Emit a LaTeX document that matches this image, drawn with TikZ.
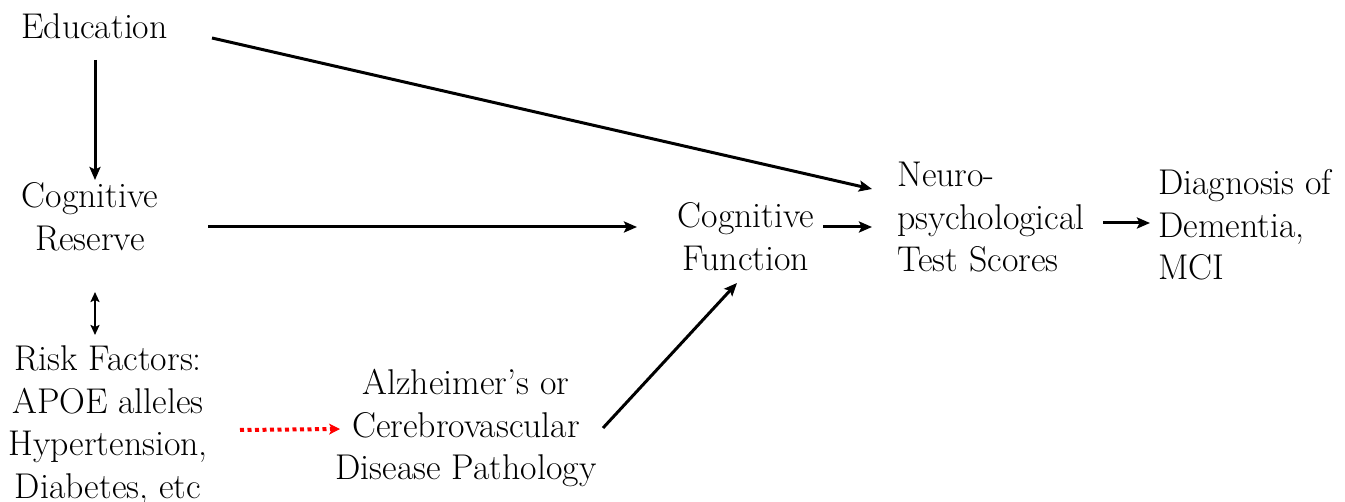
\documentclass[tikz,border=0pt]{standalone}
\usepackage{fontspec}
\usetikzlibrary{arrows.meta,calc}
\newcommand{\mlc}[1]{\begin{tabular}[t]{@{}c@{}}#1\end{tabular}}
\newcommand{\mll}[1]{\begin{tabular}[t]{@{}l@{}}#1\end{tabular}}
\begin{document}
\begin{tikzpicture}[x=1pt,y=-1pt,
  lbl/.style={inner sep=0pt,font=\rmfamily\fontsize{35.8}{42.5}\selectfont},
  arr/.style={line width=3pt,-{Stealth[length=13pt,width=11pt,inset=2.5pt]}},
  dbl/.style={line width=2.5pt,{Stealth[length=10pt,width=9pt,inset=2pt]}-{Stealth[length=10pt,width=9pt,inset=2pt]}},
  redarr/.style={red,line width=4pt,dash pattern=on 4pt off 3.5pt,-{Stealth[length=11pt,width=11pt,inset=3pt,line width=1pt]}}]
\useasboundingbox (0,0) rectangle (1345,502);
\node[lbl,anchor=base] (edu) at (94.5,39) {\mlc{Education}};
\node[lbl,anchor=base] (cr) at (90,208) {\mlc{Cognitive\\Reserve}};
\node[lbl,anchor=base] (risk) at (108,371) {\mlc{Risk Factors:\\APOE alleles\\Hypertension,\\Diabetes, etc}};
\node[lbl,anchor=base] (alz) at (466,395) {\mlc{Alzheimer’s or\\Cerebrovascular\\Disease Pathology}};
\node[lbl,anchor=base] (cf) at (746,228) {\mlc{Cognitive\\Function}};
\node[lbl,anchor=base west] (neuro) at (897,187) {\mll{Neuro-\\psychological\\Test Scores}};
\node[lbl,anchor=base west] (diag) at (1158,195) {\mll{Diagnosis of\\Dementia,\\MCI}};
\draw[arr] ($(edu.base)+(0.5,21)$) -- ($(cr.base)+(5,-28)$);
\draw[arr] ($(edu.base)+(117.5,-1)$) -- ($(neuro.base west)+(-25,2)$);
\draw[arr] ($(cr.base)+(118,19)$) -- ($(cf.base)+(-109,-1)$);
\draw[dbl] ($(cr.base)+(5,84)$) -- ($(risk.base)+(-13,-36)$);
\draw[redarr] ($(risk.base)+(132,59)$) -- ($(alz.base)+(-126,34)$);
\draw[arr] ($(alz.base)+(137,33)$) -- ($(cf.base)+(-9,55)$);
\draw[arr] ($(cf.base)+(77,-1)$) -- ($(neuro.base west)+(-25,40)$);
\draw[arr] ($(neuro.base west)+(206,36)$) -- ($(diag.base west)+(-8,28)$);
\end{tikzpicture}
\end{document}
